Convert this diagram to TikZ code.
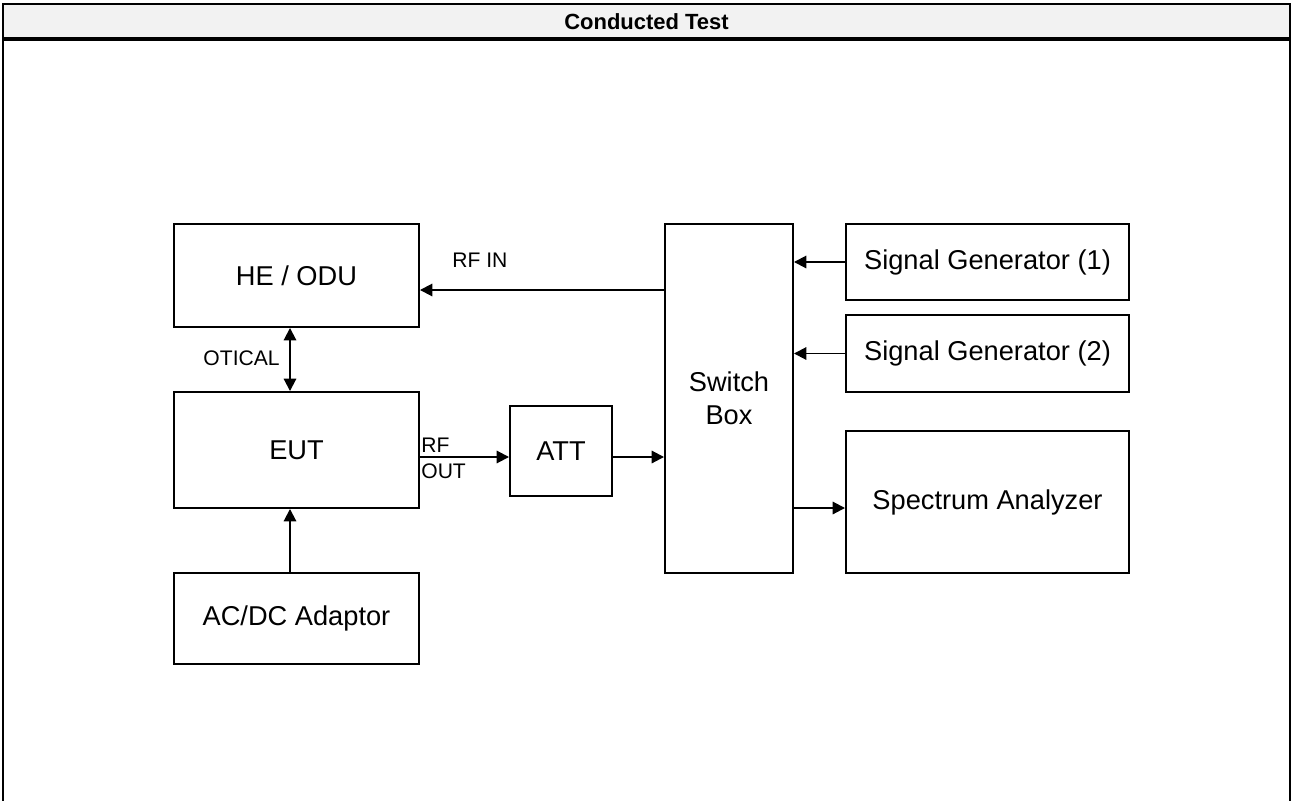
\documentclass[tikz,border=0pt]{standalone}
\usepackage{fontspec}
\setmainfont{Liberation Sans}
\usetikzlibrary{arrows.meta}
\definecolor{HeadGray}{RGB}{242, 242, 242}
\tikzstyle{block} = [rectangle, draw=black, line width=1.1pt, text centered, font=\fontsize{15.5}{18.5}\selectfont, inner sep=2pt]
\tikzstyle{lbl} = [font=\fontsize{12}{15}\selectfont, inner sep=0pt]
\tikzstyle{arrow} = [line width=1.1pt, -{Triangle[length=7pt,width=7pt]}]
\tikzstyle{darrow} = [line width=1.1pt, {Triangle[length=7pt,width=7pt]}-{Triangle[length=7pt,width=7pt]}]

\begin{document}
\begin{tikzpicture}
\useasboundingbox (0,0) rectangle (25.86,-16.02);

% Cadre et titre
\fill[HeadGray] (0.06,-0.08) rectangle (25.8,-0.78);
\draw[line width=1.1pt] (0.06,-16.02) -- (0.06,-0.08) -- (25.8,-0.08) -- (25.8,-16.02);
\draw[line width=1.8pt] (0.06,-0.78) -- (25.8,-0.78);
\node (title) [font=\bfseries\fontsize{12.5}{14}\selectfont] at (12.93,-0.43) {Conducted Test};

% Blocs
\node (heodu) [block, minimum width=4.9cm, minimum height=2.06cm] at (5.93,-5.51) {HE / ODU};
\node (eut) [block, minimum width=4.9cm, minimum height=2.32cm] at (5.93,-9.0) {EUT};
\node (adaptor) [block, minimum width=4.9cm, minimum height=1.82cm] at (5.93,-12.37) {AC/DC Adaptor};
\node (att) [block, minimum width=2.04cm, minimum height=1.8cm] at (11.22,-9.02) {ATT};
\node (switch) [block, align=center, minimum width=2.56cm, minimum height=6.98cm] at (14.58,-7.97) {Switch\\Box};
\node (siggen1) [block, minimum width=5.66cm, minimum height=1.52cm] at (19.75,-5.24) {Signal Generator (1)};
\node (siggen2) [block, minimum width=5.66cm, minimum height=1.54cm] at (19.75,-7.07) {Signal Generator (2)};
\node (analyzer) [block, minimum width=5.66cm, minimum height=2.84cm] at (19.75,-10.04) {Spectrum Analyzer};

% Niveaux des liaisons
\coordinate (rfin) at (0,-5.8);
\coordinate (rfout) at (0,-9.14);
\coordinate (vline) at (5.8,0);

% Liaisons
\draw [arrow] (switch.west |- rfin) -- (heodu.east |- rfin);
\draw [darrow] (heodu.south -| vline) -- (eut.north -| vline);
\draw [arrow] (adaptor.north -| vline) -- (eut.south -| vline);
\draw [arrow] (eut.east |- rfout) -- (att.west |- rfout);
\draw [arrow] (att.east |- rfout) -- (switch.west |- rfout);
\draw [arrow] (siggen1.west) -- (switch.east |- siggen1.west);
\draw [arrow] (siggen2.west) -- (switch.east |- siggen2.west);
\draw [arrow] (switch.east |- 0,-10.16) -- (analyzer.west |- 0,-10.16);

% Etiquettes
\node (rfinlbl) [lbl, anchor=west] at (9.04,-5.2) {RF IN};
\node (opticlbl) [lbl, anchor=east] at (5.6,-7.16) {OTICAL};
\node (rfoutlbl) [lbl, anchor=west, align=left] at (8.42,-9.17) {RF\\OUT};

\end{tikzpicture}
\end{document}
